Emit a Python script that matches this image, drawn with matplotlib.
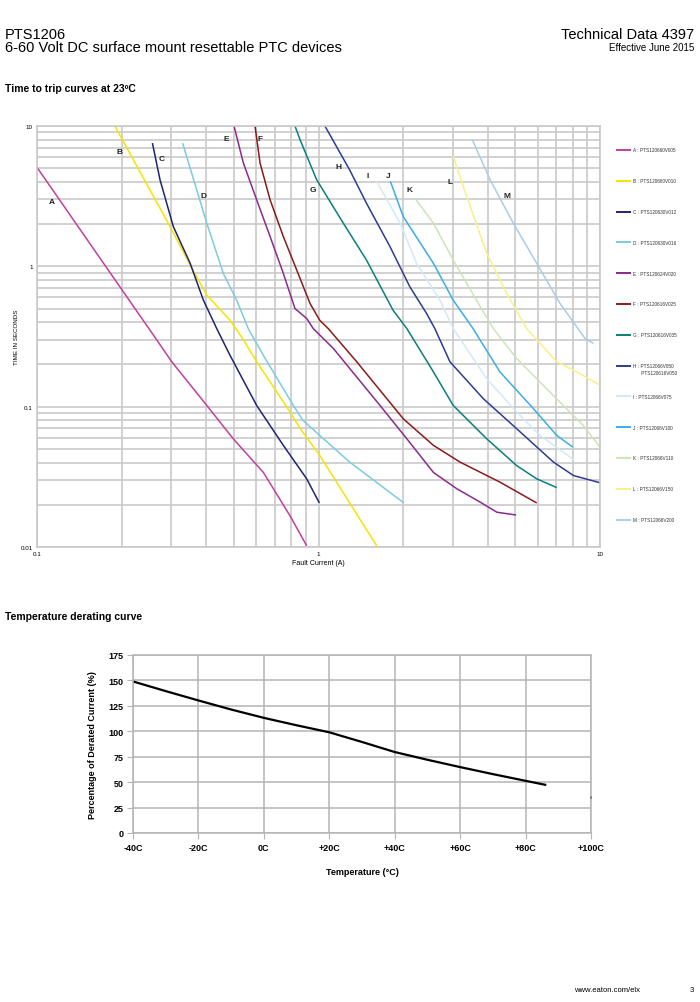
import matplotlib
matplotlib.use("Agg")
import matplotlib.pyplot as plt
import numpy as np

plt.rcParams['font.family'] = ['Liberation Sans', 'DejaVu Sans']

# ---------------- Data: time-to-trip curves ----------------
labels = ["A", "B", "C", "D", "E", "F", "G", "H", "I", "J", "K", "L", "M"]
legend_texts = ["A : PTS120660V005", "B : PTS120660V010", "C : PTS120630V012",
                "D : PTS120630V016", "E : PTS120624V020", "F : PTS120616V025",
                "G : PTS120616V035", "H : PTS12066V050\n      PTS120616V050",
                "I : PTS12066V075", "J : PTS12066V100", "K : PTS12066V110",
                "L : PTS12066V150", "M : PTS12066V200"]
colors = ["#c2409a", "#f5e400", "#1f2470", "#7ccbe0", "#8b2a8b", "#8b1a1a",
          "#0a7f7a", "#2e3c92", "#d2e9f6", "#39aee6", "#cfe3b8", "#f8f08a", "#a9cdea"]

A_x = [0.100, 0.266, 0.301, 0.401, 0.498, 0.637, 0.792, 0.908]
A_y = [5.07, 0.30, 0.209, 0.102, 0.059, 0.034, 0.0167, 0.0102]
B_x = [0.189, 0.297, 0.350, 0.401, 0.485, 0.541, 0.603, 0.792, 0.86, 1.01, 1.33, 1.61]
B_y = [10.0, 1.92, 1.02, 0.624, 0.413, 0.300, 0.209, 0.0917, 0.070, 0.045, 0.0187, 0.0102]
C_x = [0.257, 0.2735, 0.305, 0.350, 0.390, 0.435, 0.485, 0.603, 0.750, 0.908, 1.007]
C_y = [7.56, 4.14, 1.92, 1.05, 0.574, 0.36, 0.232, 0.102, 0.053, 0.0306, 0.0206]
D_x = [0.329, 0.401, 0.459, 0.512, 0.563, 0.637, 0.814, 0.88, 1.01, 1.29, 2.01]
D_y = [7.56, 2.03, 0.89, 0.574, 0.36, 0.232, 0.102, 0.080, 0.0624, 0.0403, 0.0206]
E_x = [0.501, 0.541, 0.603, 0.673, 0.750, 0.825, 0.908, 0.958, 1.129, 1.654, 2.06, 2.56, 3.1, 3.75, 4.3, 5.03]
E_y = [10.0, 5.44, 2.98, 1.63, 0.89, 0.50, 0.425, 0.36, 0.26, 0.102, 0.059, 0.034, 0.026, 0.0209, 0.0177, 0.0169]
F_x = [0.595, 0.62, 0.673, 0.750, 0.837, 0.933, 1.01, 1.083, 1.367, 2.0, 2.56, 3.18, 4.41, 5.96]
F_y = [10.0, 5.44, 2.98, 1.63, 0.94, 0.544, 0.413, 0.36, 0.209, 0.082, 0.053, 0.0403, 0.029, 0.0206]
G_x = [0.825, 0.86, 0.985, 1.225, 1.48, 1.84, 2.06, 2.56, 3.01, 3.96, 5.06, 5.96, 7.02]
G_y = [10.0, 7.98, 4.14, 2.03, 1.11, 0.487, 0.36, 0.177, 0.102, 0.059, 0.038, 0.0306, 0.0265]
H_x = [1.054, 1.29, 1.48, 1.795, 2.11, 2.42, 2.59, 2.93, 3.85, 5.06, 6.83, 8.05, 10.0]
H_y = [10.0, 4.87, 2.82, 1.38, 0.716, 0.462, 0.36, 0.209, 0.114, 0.0696, 0.0403, 0.0323, 0.0287]
I_x = [1.61, 1.95, 2.23, 2.70, 3.01, 3.96, 5.06, 6.12, 8.05]
I_y = [4.03, 2.03, 1.05, 0.574, 0.36, 0.158, 0.0917, 0.0624, 0.042]
J_x = [1.80, 2.00, 2.56, 3.01, 3.54, 4.41, 5.80, 7.02, 8.0]
J_y = [4.03, 2.26, 1.05, 0.574, 0.36, 0.177, 0.0968, 0.0624, 0.0515]
K_x = [2.20, 2.56, 3.01, 3.64, 4.18, 5.06, 6.83, 8.72, 10.0]
K_y = [3.06, 2.03, 1.11, 0.574, 0.36, 0.22, 0.12, 0.0735, 0.0515]
L_x = [3.01, 3.36, 3.96, 4.66, 5.49, 7.02, 8.27, 10.0]
L_y = [6.07, 3.15, 1.24, 0.641, 0.36, 0.209, 0.177, 0.142]
M_x = [3.52, 4.07, 4.92, 5.96, 7.21, 8.85, 9.47]
M_y = [7.98, 4.14, 2.03, 1.05, 0.544, 0.306, 0.282]

curves_x = [A_x, B_x, C_x, D_x, E_x, F_x, G_x, H_x, I_x, J_x, K_x, L_x, M_x]
curves_y = [A_y, B_y, C_y, D_y, E_y, F_y, G_y, H_y, I_y, J_y, K_y, L_y, M_y]

label_x = [0.113, 0.197, 0.278, 0.389, 0.472, 0.62, 0.956, 1.18, 1.5, 1.77, 2.1, 2.93, 4.67]
label_y = [2.91, 6.63, 5.9, 3.21, 8.2, 8.2, 3.55, 5.18, 4.47, 4.47, 3.55, 4.05, 3.21]

# ---------------- Data: derating curve ----------------
temp_c = [-40, -30, -20, -10, 0, 10, 20, 30, 40, 50, 60, 70, 80, 86]
derate_pct = [149, 139.5, 130.3, 121.4, 113.2, 105.9, 99.0, 89.5, 79.6, 72, 64.8, 57.9, 51.3, 47.4]
temp_dot = [100]
derate_dot = [35]
temp_ticks = [-40, -20, 0, 20, 40, 60, 80, 100]
temp_ticklabels = ["-40C", "-20C", "0C", "+20C", "+40C", "+60C", "+80C", "+100C"]

W, H = 700, 1003
fig = plt.figure(figsize=(7, 10.03), dpi=100)

def fx(px):
    return px / W

def fy(py):
    return 1 - py / H

# ---------------- Header text ----------------
fig.text(fx(5), fy(39), "PTS1206", fontsize=10.5, va="baseline", ha="left")
fig.text(fx(5), fy(52), "6-60 Volt DC surface mount resettable PTC devices", fontsize=10.5,
         va="baseline", ha="left")
fig.text(fx(694), fy(39), "Technical Data 4397", fontsize=10.5, va="baseline", ha="right")
fig.text(fx(694), fy(51), "Effective June 2015", fontsize=7, va="baseline", ha="right")
fig.text(fx(5), fy(92), "Time to trip curves at 23ºC", fontsize=7.5, weight="bold",
         va="baseline", ha="left")
fig.text(fx(5), fy(620), "Temperature derating curve", fontsize=7.5, weight="bold",
         va="baseline", ha="left")
fig.text(fx(640), fy(992), "www.eaton.com/elx", fontsize=5.5, va="baseline", ha="right")
fig.text(fx(694), fy(992), "3", fontsize=5.5, va="baseline", ha="right")

# ---------------- Top chart ----------------
ax = fig.add_axes([fx(37), fy(548), (600 - 37) / W, (548 - 127) / H])
ax.set_xscale("log")
ax.set_yscale("log")
ax.set_xlim(0.1, 10)
ax.set_ylim(0.01, 10)
grid_c = "#c9c9c9"
ax.grid(True, which="both", color=grid_c, linewidth=1.2)
ax.set_axisbelow(True)
for s in ax.spines.values():
    s.set_color(grid_c)
    s.set_linewidth(1.2)
ax.tick_params(which="both", length=0, labelsize=4.5, pad=3)
ax.set_xticks([0.1, 1, 10])
ax.set_xticklabels(["0.1", "1", "10"])
ax.set_yticks([0.01, 0.1, 1, 10])
ax.set_yticklabels(["0.01", "0.1", "1", "10"])
ax.set_xlabel("Fault Current (A)", fontsize=5, labelpad=2)
ax.set_ylabel("TIME IN SECONDS", fontsize=4.5, labelpad=1)

for xs, ys, c in zip(curves_x, curves_y, colors):
    ax.plot(xs, ys, color=c, linewidth=1.1, solid_capstyle="butt")

for lab, lx, ly in zip(labels, label_x, label_y):
    ax.text(lx, ly, lab, fontsize=6, weight="bold", ha="center", va="center", color="#222222")

# legend (manual layout)
lax = fig.add_axes([fx(612), fy(535), (700 - 612) / W, (535 - 135) / H])
lax.set_xlim(612, 700)
lax.set_ylim(535, 135)
lax.axis("off")
leg_y0 = 151
leg_dy = 30.8
for i, (t, c) in enumerate(zip(legend_texts, colors)):
    yy = leg_y0 + i * leg_dy
    lax.plot([616, 631], [yy, yy], color=c, linewidth=1.4, solid_capstyle="butt")
    if "\n" in t:
        lax.text(633, yy - 3, t, fontsize=3.4, va="top", ha="left",
                 linespacing=1.6, color="#333333")
    else:
        lax.text(633, yy, t, fontsize=3.4, va="center", ha="left", color="#333333")

# ---------------- Bottom chart ----------------
bx = fig.add_axes([fx(133), fy(834), (591 - 133) / W, (834 - 656) / H])
bx.set_xlim(-40, 100)
bx.set_ylim(0, 175)
bx.set_xticks(temp_ticks)
bx.set_xticklabels(temp_ticklabels)
bx.set_yticks(np.arange(0, 176, 25))
bx.grid(True, color="#b4b4b4", linewidth=1.1)
bx.set_axisbelow(True)
for s in bx.spines.values():
    s.set_color("#b4b4b4")
    s.set_linewidth(1.1)
bx.tick_params(length=4, color="#b4b4b4", labelsize=6.5, pad=3)
for lbl in bx.get_xticklabels() + bx.get_yticklabels():
    lbl.set_fontweight("bold")
bx.plot(temp_c, derate_pct, color="black", linewidth=1.6)
bx.plot(temp_dot, derate_dot, marker="s", markersize=1.2, color="black", linestyle="none")
bx.set_xlabel("Temperature (°C)", fontsize=6.5, weight="bold", labelpad=11)
bx.set_ylabel("Percentage of Derated Current (%)", fontsize=6.5, weight="bold", labelpad=8)

fig.savefig("out.png", dpi=100)
